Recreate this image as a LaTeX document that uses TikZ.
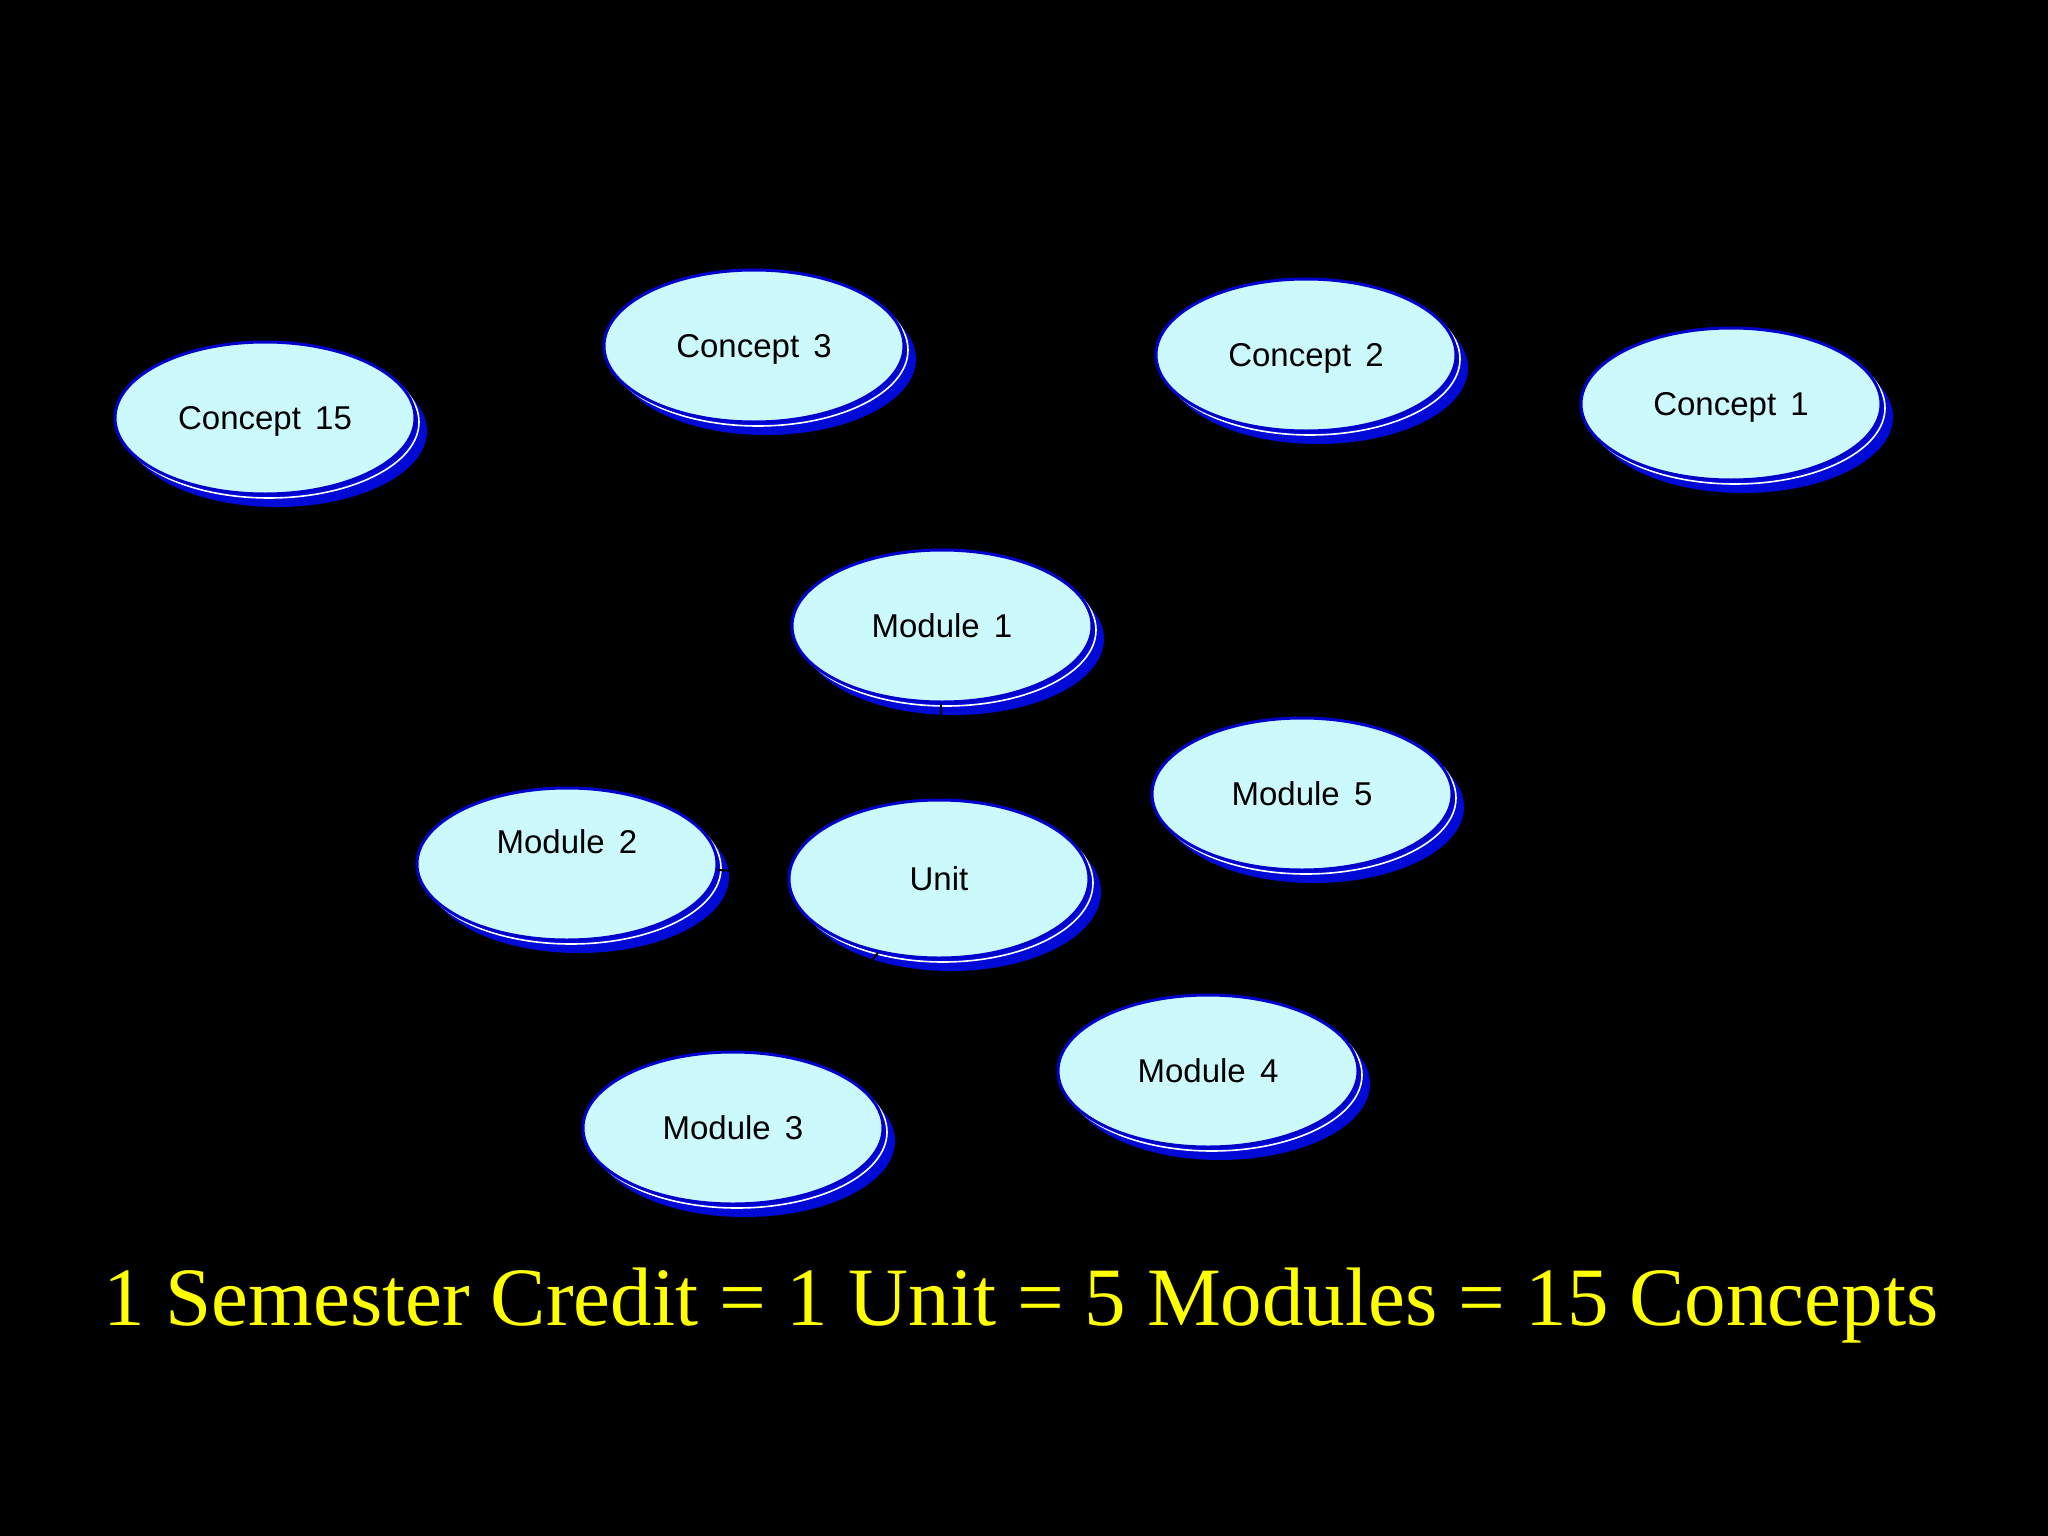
\documentclass[tikz,border=0pt]{standalone}
\usepackage{fontspec}
\setmainfont{Liberation Serif}
\newfontfamily\arialfont{Liberation Sans}
\usetikzlibrary{shapes.geometric}
\definecolor{bubfill}{RGB}{204,250,252}
\definecolor{bubline}{RGB}{0,0,204}
\definecolor{shadblue}{RGB}{0,10,215}
\definecolor{titleyellow}{RGB}{255,255,0}
\newcommand\wsp{\ \kern5pt}
\tikzset{
  bub/.style={ellipse, draw=bubline, line width=3pt, fill=bubfill, minimum width=300pt, minimum height=152pt, inner sep=0pt, text height=22pt, text depth=0pt, font=\arialfont\fontsize{33}{40}\selectfont, text=black},
  conn/.style={draw=black, line width=2pt},
  titletext/.style={font=\fontsize{83}{96}\selectfont, text=titleyellow, inner sep=0pt}
}
\newcommand\mybubble[5]{%
  \fill[shadblue] (#2,#3) ++(12,13) ellipse [x radius=150, y radius=#5];
  \draw[white, line width=1.6pt, fill=shadblue] (#2,#3) ++(4,4) ellipse [x radius=150, y radius=#5];
  \node[bub, minimum height=2*#5 pt] (#1) at (#2,#3) {#4};
}
\begin{document}
\begin{tikzpicture}[x=1pt,y=-1pt]
\fill[black] (0,0) rectangle (2048,1536);
\useasboundingbox (0,0) rectangle (2048,1536);
\mybubble{c15}{265}{418}{Concept\wsp 15}{76}
\mybubble{c3}{754}{346}{Concept\wsp 3}{76}
\mybubble{c2}{1306}{355}{Concept\wsp 2}{76}
\mybubble{c1}{1731}{404}{Concept\wsp 1}{76}
\mybubble{m1}{942}{626}{Module\wsp 1}{76}
\mybubble{m5}{1302}{794}{Module\wsp 5}{76}
\mybubble{m2}{567}{864}{\raisebox{22pt}{Module\wsp 2}}{76}
\mybubble{u}{939}{879}{Unit}{79}
\mybubble{m4}{1208}{1071}{Module\wsp 4}{76}
\mybubble{m3}{733}{1128}{Module\wsp 3}{76}
\draw[conn] (m1) -- (u);
\draw[conn] (m2) -- (u);
\draw[conn] (m3) -- (u);
\draw[conn] (m5) -- (u);
\draw[conn] (m1) -- (c1);
\node[titletext] (title) at (1021,1306) {1 Semester Credit = 1 Unit = 5 Modules = 15 Concepts};
\end{tikzpicture}
\end{document}
